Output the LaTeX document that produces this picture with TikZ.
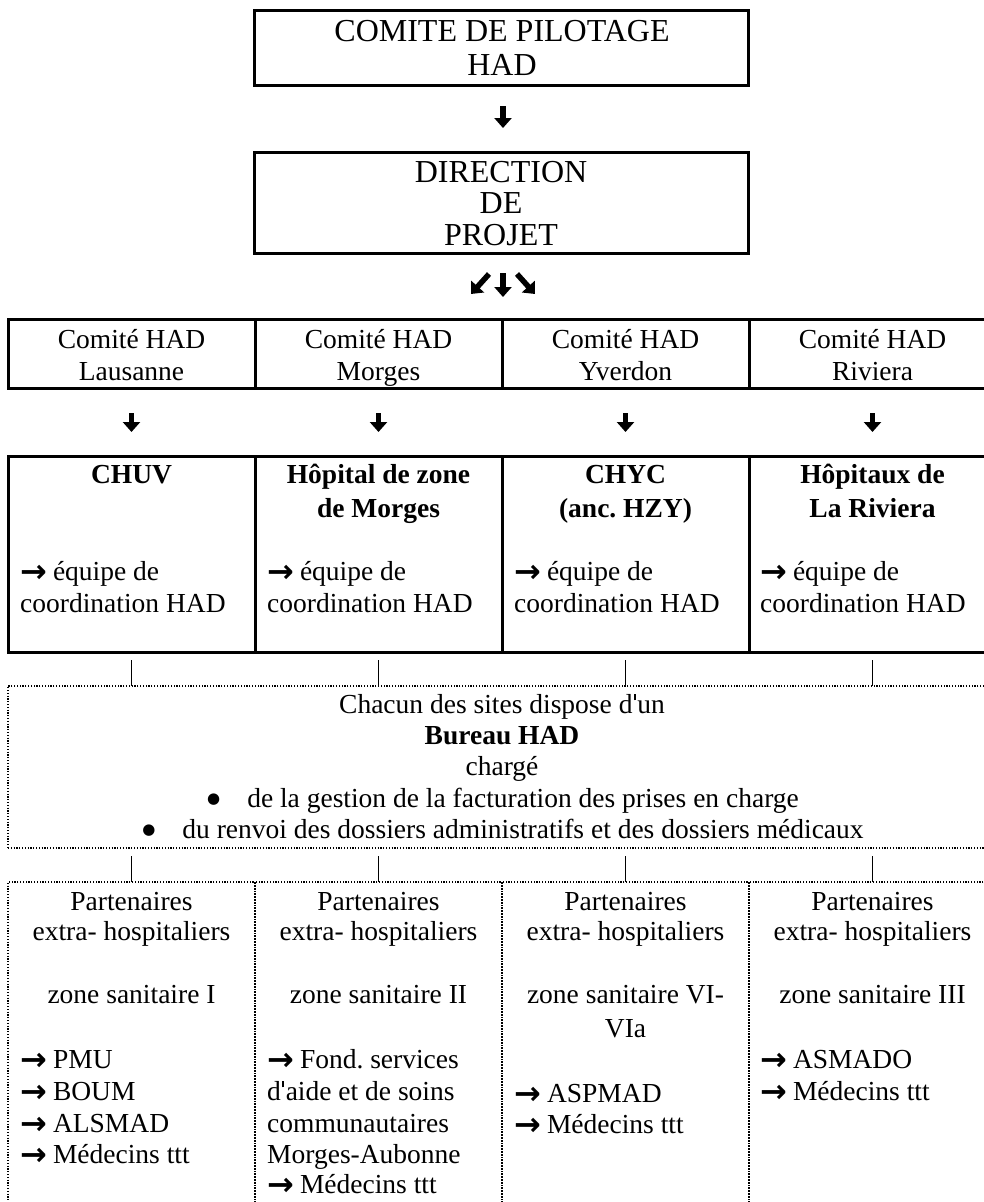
\documentclass[tikz,border=0pt]{standalone}
\usepackage{fontspec}
\setmainfont{Liberation Serif}
\newfontfamily\symfont{DejaVu Sans}
\usetikzlibrary{arrows.meta,calc}
\frenchspacing
\newcommand\fsbody{\fontsize{27.5}{32}\selectfont}
\newcommand\fstop{\fontsize{32}{34}\selectfont}
\newcommand\arr{\raisebox{-2.5pt}{\symfont\bfseries\fontsize{32}{32}\selectfont →}\hspace{6pt}}
\newcommand\apos{\hspace{0.05em}\rule[0.46em]{0.065em}{0.22em}\hspace{0.06em}}
\newcommand\bul{\raisebox{4pt}{\symfont\fontsize{15}{15}\selectfont ●}\hspace{27pt}}
\begin{document}
\begin{tikzpicture}[x=1pt,y=-1pt,
  box/.style={draw, line width=3pt, inner sep=0pt, outer sep=0pt, minimum width=247pt},
  combox/.style={box, minimum height=69pt},
  hosbox/.style={box, minimum height=196pt},
  dotbox/.style={draw, line width=1.2pt, dash pattern=on 1.2pt off 1.6pt, inner sep=0pt, outer sep=0pt},
  ctext/.style={anchor=base, inner sep=0pt, font=\fsbody},
  ltext/.style={anchor=base west, inner sep=0pt, font=\fsbody},
  ttext/.style={anchor=base, inner sep=0pt, font=\fstop},
  bigarrow/.style={line width=5.5pt, -{Triangle[width=17pt,length=10pt]}},
  tick/.style={line width=0.9pt}
]
\path[fill=white, use as bounding box] (0,0) rectangle (984,1202);

% top boxes
\node[box, minimum width=494pt, minimum height=75pt] (cp) at (501,47.5) {};
\node[box, minimum width=494pt, minimum height=101pt] (dp) at (501,202.5) {};
\node[ttext] (cpa) at (502,41) {COMITE DE PILOTAGE};
\node[ttext] (cpb) at (502,75) {HAD};
\node[ttext] (dpa) at (501,182) {DIRECTION};
\node[ttext] (dpb) at (501,213) {DE};
\node[ttext] (dpc) at (501,245) {PROJET};

% comite row
\node[combox] (c1) at (131.5,353.5) {};
\node[combox] (c2) at (378.5,353.5) {};
\node[combox] (c3) at (625.5,353.5) {};
\node[combox] (c4) at (872.5,353.5) {};
\node[ctext] (c1a) at (131.5,348) {Comité HAD};
\node[ctext] (c1b) at (131.5,380) {Lausanne};
\node[ctext] (c2a) at (378.5,348) {Comité HAD};
\node[ctext] (c2b) at (378.5,380) {Morges};
\node[ctext] (c3a) at (625.5,348) {Comité HAD};
\node[ctext] (c3b) at (625.5,380) {Yverdon};
\node[ctext] (c4a) at (872.5,348) {Comité HAD};
\node[ctext] (c4b) at (872.5,380) {Riviera};

% hospital row
\node[hosbox] (h1) at (131.5,554) {};
\node[hosbox] (h2) at (378.5,554) {};
\node[hosbox] (h3) at (625.5,554) {};
\node[hosbox] (h4) at (872.5,554) {};
\node[ctext, font=\fsbody\bfseries] (h1a) at (131.5,483) {CHUV};
\node[ctext, font=\fsbody\bfseries] (h2a) at (378.5,483) {Hôpital de zone};
\node[ctext, font=\fsbody\bfseries] (h2b) at (378.5,517) {de Morges};
\node[ctext, font=\fsbody\bfseries] (h3a) at (625.5,483) {CHYC};
\node[ctext, font=\fsbody\bfseries] (h3b) at (625.5,517) {(anc. HZY)};
\node[ctext, font=\fsbody\bfseries] (h4a) at (872.5,483) {Hôpitaux de};
\node[ctext, font=\fsbody\bfseries] (h4b) at (872.5,517) {La Riviera};
\node[ltext] (h1c) at (20,580) {\arr équipe de};
\node[ltext] (h1d) at (20,612) {coordination HAD};
\node[ltext] (h2c) at (267,580) {\arr équipe de};
\node[ltext] (h2d) at (267,612) {coordination HAD};
\node[ltext] (h3c) at (514,580) {\arr équipe de};
\node[ltext] (h3d) at (514,612) {coordination HAD};
\node[ltext] (h4c) at (760,580) {\arr équipe de};
\node[ltext] (h4d) at (760,612) {coordination HAD};

% bureau box
\node[dotbox, minimum width=988pt, minimum height=162pt] (bu) at (502,767) {};
\node[ctext] (bua) at (502,713) {Chacun des sites dispose d\apos un};
\node[ctext, font=\fsbody\bfseries] (bub) at (502,744) {Bureau HAD};
\node[ctext] (buc) at (502,775) {chargé};
\node[ctext] (bud) at (503,807) {\bul de la gestion de la facturation des prises en charge};
\node[ctext] (bue) at (503,838) {\bul du renvoi des dossiers administratifs et des dossiers médicaux};

% partner boxes
\node[dotbox, minimum width=247pt, minimum height=348pt] (p1) at (131.5,1056) {};
\node[dotbox, minimum width=247pt, minimum height=348pt] (p2) at (378.5,1056) {};
\node[dotbox, minimum width=247pt, minimum height=348pt] (p3) at (625.5,1056) {};
\node[dotbox, minimum width=247pt, minimum height=348pt] (p4) at (872.5,1056) {};

\node[ctext] (p1a) at (131.5,910) {Partenaires};
\node[ctext] (p1b) at (131.5,940) {extra- hospitaliers};
\node[ctext] (p1c) at (131.5,1003) {zone sanitaire I};
\node[ltext] (p1d) at (20,1068) {\arr PMU};
\node[ltext] (p1e) at (20,1100) {\arr BOUM};
\node[ltext] (p1f) at (20,1132) {\arr ALSMAD};
\node[ltext] (p1g) at (20,1163) {\arr Médecins ttt};

\node[ctext] (p2a) at (378.5,910) {Partenaires};
\node[ctext] (p2b) at (378.5,940) {extra- hospitaliers};
\node[ctext] (p2c) at (378.5,1003) {zone sanitaire II};
\node[ltext] (p2d) at (267,1068) {\arr Fond. services};
\node[ltext] (p2e) at (267,1100) {d\apos aide et de soins};
\node[ltext] (p2f) at (267,1132) {communautaires};
\node[ltext] (p2g) at (267,1163) {Morges-Aubonne};
\node[ltext] (p2h) at (267,1193) {\arr Médecins ttt};

\node[ctext] (p3a) at (625.5,910) {Partenaires};
\node[ctext] (p3b) at (625.5,940) {extra- hospitaliers};
\node[ctext] (p3c) at (625.5,1003) {zone sanitaire VI-};
\node[ctext] (p3d) at (625.5,1037) {VIa};
\node[ltext] (p3e) at (514,1102) {\arr ASPMAD};
\node[ltext] (p3f) at (514,1133) {\arr Médecins ttt};

\node[ctext] (p4a) at (872.5,910) {Partenaires};
\node[ctext] (p4b) at (872.5,940) {extra- hospitaliers};
\node[ctext] (p4c) at (872.5,1003) {zone sanitaire III};
\node[ltext] (p4d) at (760,1068) {\arr ASMADO};
\node[ltext] (p4e) at (760,1100) {\arr Médecins ttt};

% arrows
\draw[bigarrow] ($(cp.south)+(2,21)$) -- ($(dp.north)+(2,-24)$);
\draw[bigarrow] ($(dp.south)+(2,20)$) -- ($(dp.south)+(2,44)$);
\draw[bigarrow] ($(dp.south)+(-12,21)$) -- ($(dp.south)+(-30,41)$);
\draw[bigarrow] ($(dp.south)+(16,21)$) -- ($(dp.south)+(34,41)$);
\foreach \i in {1,2,3,4}{
  \draw[bigarrow] ($(c\i.south)+(0,25)$) -- ($(h\i.north)+(0,-24)$);
  \draw[tick] ($(h\i.south)+(0,8)$) -- (h\i.south |- bu.north);
  \draw[tick] ($(bu.south -| p\i.north)+(0,8)$) -- (p\i.north);
}
\end{tikzpicture}
\end{document}
